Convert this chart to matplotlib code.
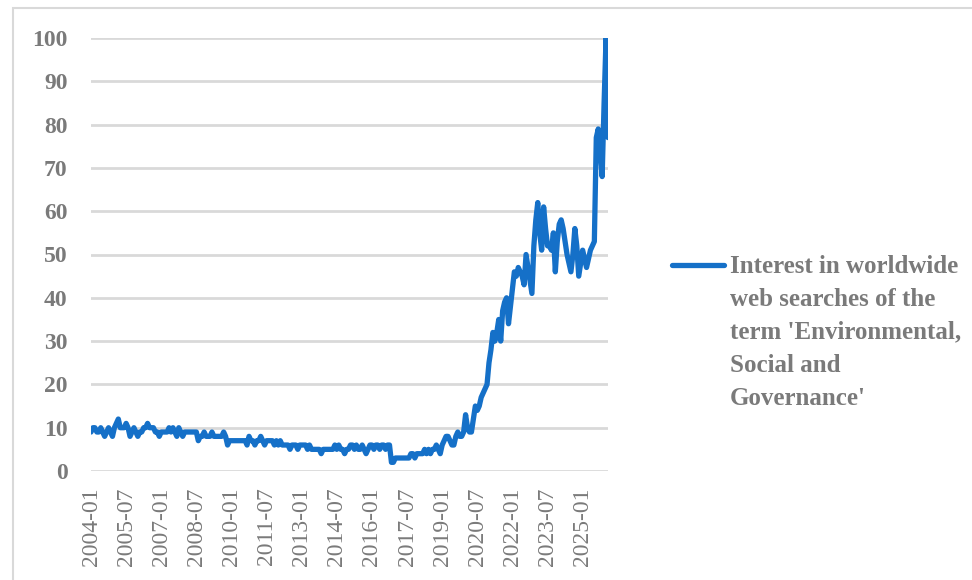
import matplotlib
matplotlib.use("Agg")
import matplotlib.pyplot as plt
from matplotlib.lines import Line2D
from matplotlib.patches import Rectangle
import pandas as pd

# monthly interest index, 2004-01 onwards
y2004 = [9, 10, 10, 9, 9, 10, 9, 8, 9, 10, 9, 8]
y2005 = [10, 11, 12, 10, 10, 10, 11, 10, 8, 9, 10, 9]
y2006 = [8, 9, 9, 10, 10, 11, 10, 10, 10, 9, 9, 8]
y2007 = [9, 9, 9, 9, 10, 9, 10, 9, 8, 10, 9, 8]
y2008 = [9, 9, 9, 9, 9, 9, 9, 7, 8, 8, 9, 8]
y2009 = [8, 8, 9, 8, 8, 8, 8, 8, 9, 8, 6, 7]
y2010 = [7, 7, 7, 7, 7, 7, 7, 7, 6, 8, 7, 7]
y2011 = [6, 7, 7, 8, 7, 6, 7, 7, 7, 7, 6, 7]
y2012 = [6, 7, 6, 6, 6, 6, 5, 6, 6, 6, 5, 6]
y2013 = [6, 6, 6, 5, 6, 5, 5, 5, 5, 5, 4, 5]
y2014 = [5, 5, 5, 5, 5, 6, 5, 6, 5, 5, 4, 5]
y2015 = [5, 6, 6, 5, 6, 5, 5, 6, 5, 4, 5, 6]
y2016 = [6, 5, 6, 6, 5, 6, 6, 5, 6, 6, 2, 2]
y2017 = [3, 3, 3, 3, 3, 3, 3, 3, 4, 4, 3, 4]
y2018 = [4, 4, 4, 5, 4, 5, 4, 5, 5, 6, 5, 4]
y2019 = [6, 7, 8, 8, 7, 6, 6, 8, 9, 8, 8, 9]
y2020 = [13, 10, 9, 9, 12, 15, 14, 15, 17, 18, 19, 20]
y2021 = [25, 28, 32, 30, 32, 35, 30, 37, 39, 40, 34, 38]
y2022 = [42, 46, 45, 47, 46, 45, 43, 50, 47, 44, 41, 52]
y2023 = [58, 62, 55, 51, 61, 56, 52, 52, 51, 55, 46, 53]
y2024 = [57, 58, 56, 53, 50, 48, 46, 50, 56, 52, 45, 48]
y2025 = [51, 49, 47, 49, 51, 52, 53, 77, 79, 74, 68, 85]
y2026 = [100, 77]

values = (y2004 + y2005 + y2006 + y2007 + y2008 + y2009 + y2010 + y2011 + y2012
          + y2013 + y2014 + y2015 + y2016 + y2017 + y2018 + y2019 + y2020
          + y2021 + y2022 + y2023 + y2024 + y2025 + y2026)
months = pd.period_range("2004-01", periods=len(values), freq="M").strftime("%Y-%m")
label_step = 18
y_ticks = [0, 10, 20, 30, 40, 50, 60, 70, 80, 90, 100]
legend_label = ("Interest in worldwide\nweb searches of the\nterm 'Environmental,\n"
                "Social and\nGovernance'")

W, H = 972, 580
fig = plt.figure(figsize=(W / 100, H / 100), dpi=100)
gray = "#7a7a7a"
blue = "#1570C8"

# outer chart frame
fig.add_artist(Rectangle((13 / W, -0.05), 1.1, (H - 8) / H + 0.05, transform=fig.transFigure,
                         fill=False, edgecolor="#d9d9d9", linewidth=1.5))

ax = fig.add_axes([91 / W, (H - 471) / H, (608 - 91) / W, (471 - 38) / H])
x = list(range(len(values)))
ax.plot(x, values, color=blue, linewidth=3.8, solid_joinstyle="round",
        solid_capstyle="round", zorder=3)

ax.set_xlim(0, len(values) - 1)
ax.set_ylim(0, 100)
ax.set_yticks(y_ticks)
ax.set_yticklabels([str(v) for v in y_ticks], fontfamily="Liberation Serif",
                   fontweight="bold", fontsize=17, color=gray)
ticks = list(range(0, len(values), label_step))
ax.set_xticks(ticks)
ax.set_xticklabels([months[i] for i in ticks], rotation=90, fontfamily="Liberation Serif",
                   fontsize=17, color=gray)
ax.tick_params(axis="both", length=0)
ax.tick_params(axis="y", pad=17)
ax.tick_params(axis="x", pad=12)
for s in ax.spines.values():
    s.set_visible(False)
ax.grid(axis="y", color="#d9d9d9", linewidth=2)
ax.set_axisbelow(True)
ax.patch.set_alpha(0)

# legend drawn by hand: handle aligned with the first text line
fig.add_artist(Line2D([672 / W, 724 / W], [(H - 265) / H] * 2, transform=fig.transFigure,
                      color=blue, linewidth=3.8, solid_capstyle="round"))
fig.text(730 / W, (H - 255) / H, legend_label, ha="left", va="top",
         fontfamily="Liberation Serif", fontweight="bold", fontsize=18,
         color=gray, linespacing=1.55)

fig.savefig("out.png", dpi=100)
